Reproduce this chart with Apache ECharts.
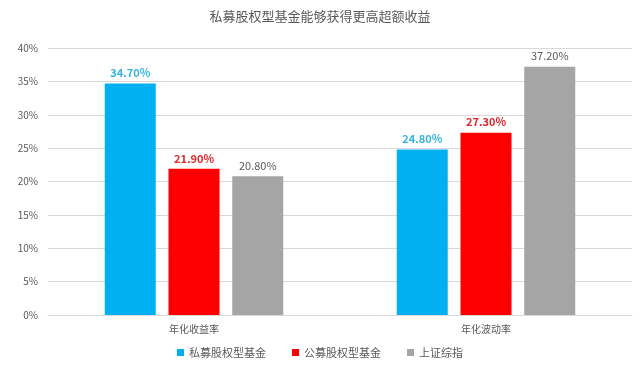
<!DOCTYPE html>
<html><head><meta charset="utf-8">
<script src="https://cdn.jsdelivr.net/npm/echarts@6/dist/echarts.min.js"></script>
<style>html,body{margin:0;padding:0;background:#fff}#c{width:640px;height:367px}</style>
</head><body><div id="c"></div>
<script>
var categories = ['年化收益率', '年化波动率'];
var seriesNames = ['私募股权型基金', '公募股权型基金', '上证综指'];
var privateEquity = [34.7, 24.8];
var publicEquity = [21.9, 27.3];
var shanghaiIndex = [20.8, 37.2];
var colors = ['#00b0f0', '#ff0000', '#a5a5a5'];
var labelColors = ['#33b5e0', '#e0262b', '#595959'];
var labelWeights = ['bold', 'bold', 'normal'];
var values = [privateEquity, publicEquity, shanghaiIndex];
var font = '"Noto Sans CJK SC", sans-serif';
var chart = echarts.init(document.getElementById('c'), null, {renderer: 'canvas'});
chart.setOption({
  animation: false,
  title: {text: '私募股权型基金能够获得更高超额收益', left: 'center', top: 5,
    textStyle: {fontFamily: font, fontSize: 13, fontWeight: 'normal', color: '#595959'}},
  legend: {bottom: 4, left: 'center', itemWidth: 7, itemHeight: 7, itemGap: 26, icon: 'rect',
    textStyle: {fontFamily: font, fontSize: 11, color: '#595959'}, data: seriesNames},
  grid: {left: 48, right: 8, top: 48, bottom: 52},
  xAxis: {type: 'category', data: categories,
    axisLine: {lineStyle: {color: '#d9d9d9'}}, axisTick: {show: false},
    axisLabel: {fontFamily: font, fontSize: 10, color: '#595959', margin: 9}},
  yAxis: {type: 'value', min: 0, max: 40, interval: 5,
    axisLabel: {formatter: '{value}%', fontFamily: font, fontSize: 10, color: '#595959', margin: 10},
    axisLine: {show: false}, axisTick: {show: false},
    splitLine: {lineStyle: {color: '#d9d9d9'}}},
  series: seriesNames.map(function(n, i){
    return {name: n, type: 'bar', data: values[i], barWidth: 51, barGap: '25%',
      itemStyle: {color: colors[i]},
      label: {show: true, position: 'top', distance: 5,
        formatter: function(p){ return p.value.toFixed(2) + '%'; },
        fontFamily: font, fontSize: 11, fontWeight: labelWeights[i], color: labelColors[i]}};
  })
});
</script></body></html>
